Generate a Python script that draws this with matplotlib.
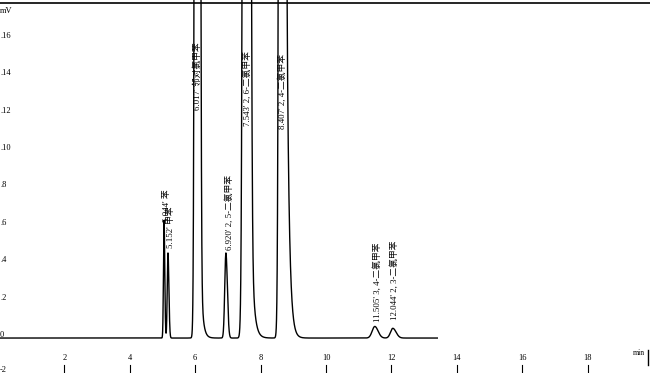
import numpy as np
import matplotlib
matplotlib.use("Agg")
import matplotlib.pyplot as plt

# peak table: centre (min), height (mV), left / right width
peak_t = [5.05, 5.17, 6.07, 6.94, 7.575, 8.66, 11.49, 12.04]
peak_h = [6.3, 4.55, 400.0, 4.55, 400.0, 400.0, 0.62, 0.52]
peak_sl = [0.018, 0.022, 0.043, 0.035, 0.058, 0.05, 0.08, 0.07]
peak_sr = [0.022, 0.028, 0.043, 0.045, 0.058, 0.045, 0.1, 0.1]
# exponential tailing of the overloaded peaks: height at centre, decay (min)
tail_h = [0, 0, 18.0, 0, 33.0, 145.0, 0, 0]
tail_tau = [1, 1, 0.063, 1, 0.08, 0.07, 1, 1]
run_end = 13.4

# peak annotations
label_txt = ["5.044' 苯", "5.152' 甲苯", "6.017' 邻对氯甲苯", "6.920' 2, 5-二氯甲苯",
             "7.543' 2, 6-二氯甲苯", "8.407' 2, 4-二氯甲苯", "11.505' 3, 4-二氯甲苯",
             "12.044' 2, 3-二氯甲苯"]
label_x = [5.14, 5.26, 6.07, 7.06, 7.61, 8.67, 11.56, 12.10]
label_y = [6.2, 4.8, 12.2, 4.7, 11.35, 11.2, 0.85, 0.95]

xticks = [2, 4, 6, 8, 10, 12, 14, 16, 18]
yticks = [16, 14, 12, 10, 8, 6, 4, 2, 0, -2]
ytick_txt = [".16", ".14", ".12", ".10", ".8", ".6", ".4", ".2", "0", "-2"]

t = np.linspace(0, run_end, 8000)
sig = np.zeros_like(t)
for c, h, sl, sr, th, tau in zip(peak_t, peak_h, peak_sl, peak_sr, tail_h, tail_tau):
    s = np.where(t < c, sl, sr)
    sig += h * np.exp(-0.5 * ((t - c) / s) ** 2)
    sig += np.where(t >= c, th * np.exp(-np.clip(t - c, 0, None) / tau), 0)

fig = plt.figure(figsize=(6.5, 3.73), dpi=100)
ax = fig.add_axes([0, 0, 1, 1])
ax.set_xlim(0.037, 19.9)
ax.set_ylim(-1.87, 18.08)
ax.axis("off")

ax.plot(t, sig, color="black", lw=1.0)
# top frame line
ax.axhline(17.92, color="black", lw=1.2)

serif = ["Liberation Serif", "DejaVu Serif"]
for v, s in zip(yticks, ytick_txt):
    yy = v + 0.16 if v > -2 else -1.72
    ax.text(0.04, yy, s, fontsize=6, family=serif, ha="left", va="center")
ax.text(0.04, 17.5, "mV", fontsize=6, family=serif, ha="left", va="center")

for v in xticks:
    ax.text(v, -1.07, str(v), fontsize=6, family=serif, ha="center", va="center")
    ax.plot([v, v], [-1.44, -1.87], color="black", lw=0.8)
ax.text(19.55, -0.8, "min", fontsize=5.5, family=serif, ha="center", va="center")
ax.plot([19.84, 19.84], [-0.64, -1.44], color="black", lw=1.0)

cjk = ["Liberation Serif", "Noto Sans CJK SC"]
for x, txt, ly in zip(label_x, label_txt, label_y):
    ax.text(x, ly, txt, rotation=90, fontsize=6.3, family=cjk,
            ha="center", va="bottom")

fig.savefig("out.png", dpi=100)
